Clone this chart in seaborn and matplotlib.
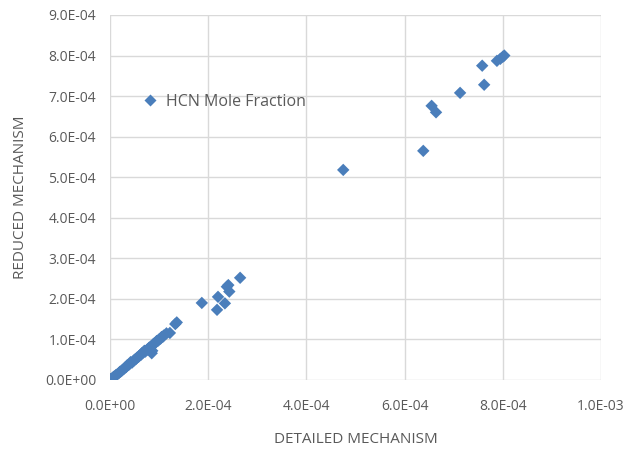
import matplotlib
matplotlib.use("Agg")
import matplotlib.pyplot as plt
import seaborn as sns
import pandas as pd
from matplotlib.ticker import FuncFormatter

# HCN mole fraction values (units of 1e-4)
detailed = [0.00, 0.01, 0.02, 0.03, 0.05, 0.06, 0.08, 0.10, 0.12, 0.15, 0.18, 0.20,
            0.22, 0.25, 0.28, 0.30, 0.33, 0.35, 0.38, 0.40, 0.42, 0.45, 0.48, 0.50,
            0.53, 0.55, 0.58, 0.60, 0.63, 0.65, 0.68, 0.70, 0.72, 0.75, 0.78, 0.80,
            0.83, 0.85, 0.86, 0.88, 0.90, 0.93, 0.95, 0.98, 1.00, 1.03, 1.05, 1.08,
            1.10, 1.15, 1.22, 1.33, 1.36,
            1.87, 2.18, 2.20, 2.34, 2.38, 2.41, 2.43, 2.65,
            4.75, 6.38, 6.55, 6.64, 7.13, 7.58, 7.62, 7.88, 7.95, 8.00, 8.03]
reduced = [0.00, 0.01, 0.02, 0.03, 0.04, 0.06, 0.08, 0.09, 0.12, 0.14, 0.17, 0.20,
           0.21, 0.24, 0.27, 0.30, 0.32, 0.36, 0.37, 0.40, 0.44, 0.43, 0.47, 0.50,
           0.52, 0.55, 0.57, 0.60, 0.62, 0.66, 0.68, 0.72, 0.70, 0.74, 0.77, 0.80,
           0.82, 0.66, 0.72, 0.88, 0.90, 0.92, 0.96, 0.97, 1.00, 1.02, 1.06, 1.07,
           1.10, 1.15, 1.16, 1.38, 1.42,
           1.90, 1.73, 2.05, 1.89, 2.30, 2.34, 2.18, 2.52,
           5.18, 5.65, 6.76, 6.60, 7.08, 7.75, 7.28, 7.87, 7.92, 7.97, 8.00]
series_name = "HCN Mole Fraction"
x_ticks = [0, 2e-4, 4e-4, 6e-4, 8e-4, 1e-3]
y_ticks = [0, 1e-4, 2e-4, 3e-4, 4e-4, 5e-4, 6e-4, 7e-4, 8e-4, 9e-4]

df = pd.DataFrame({"Detailed": [v * 1e-4 for v in detailed],
                   "Reduced": [v * 1e-4 for v in reduced],
                   "Series": series_name})

sns.set_style("white")
plt.rcParams['font.family'] = ['Open Sans', 'DejaVu Sans']

fig = plt.figure(figsize=(6.31, 4.49), dpi=100)
ax = fig.add_axes([0.1743, 0.1537, 0.7782, 0.8129])

sns.scatterplot(data=df, x="Detailed", y="Reduced", hue="Series",
                palette=["#4a7ebb"], marker="D", s=40, edgecolor="none",
                ax=ax, zorder=3)

ax.set_xlim(0, 1e-3)
ax.set_ylim(0, 9e-4)
ax.set_xticks(x_ticks)
ax.set_yticks(y_ticks)
fmt = FuncFormatter(lambda v, p: f"{v:.1E}")
ax.xaxis.set_major_formatter(fmt)
ax.yaxis.set_major_formatter(fmt)
ax.grid(True, color="#d9d9d9", linewidth=1.0, zorder=0)
ax.set_axisbelow(True)
for s in ax.spines.values():
    s.set_visible(False)
ax.tick_params(axis="both", length=0, labelsize=10, labelcolor="#595959")
ax.tick_params(axis="x", pad=14)
ax.tick_params(axis="y", pad=10)

ax.set_xlabel("DETAILED MECHANISM", fontsize=11, color="#595959", labelpad=13)
ax.set_ylabel("REDUCED MECHANISM", fontsize=11, color="#595959", labelpad=12)

leg = ax.legend(loc="center left", bbox_to_anchor=(0.035, 0.762), frameon=False,
                fontsize=11.5, handletextpad=0.0, borderaxespad=0, markerscale=0.9)
for t in leg.get_texts():
    t.set_color("#595959")

fig.savefig("out.png", dpi=100)
